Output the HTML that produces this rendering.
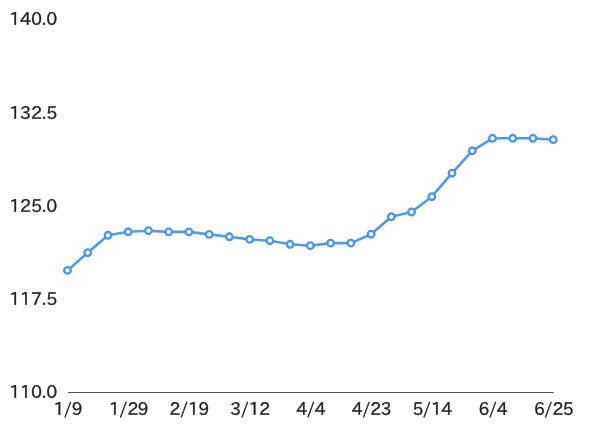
<!DOCTYPE html>
<html><head><meta charset="utf-8"><title>chart</title>
<style>
html,body{margin:0;padding:0;background:#fff;}
svg{display:block}
text{font-family:"IPAPGothic","NanumGothic","Liberation Sans",sans-serif;font-size:17.5px;fill:#222;stroke:#222;stroke-width:0.35px;}
.xl text{letter-spacing:-0.5px}
.yl text{letter-spacing:-0.15px}
</style></head><body>
<svg width="600" height="444" viewBox="0 0 600 444">
<defs><filter id="soft" x="-2%" y="-5%" width="104%" height="110%"><feGaussianBlur stdDeviation="0.6"/></filter></defs>
<rect width="600" height="444" fill="#fff"/>
<line x1="68" y1="392.5" x2="553.5" y2="392.5" stroke="#505050" stroke-width="1"/>
<g class="yl">
<text x="9.2" y="25.2">140.0</text>
<text x="9.2" y="118.8">132.5</text>
<text x="9.2" y="212.0">125.0</text>
<text x="9.2" y="304.5">117.5</text>
<text x="9.2" y="397.6">110.0</text>
</g>
<g class="xl">
<text transform="translate(67.8 415.0) scale(0.985 1)" text-anchor="middle">1/9</text>
<text transform="translate(128.5 415.0) scale(0.985 1)" text-anchor="middle">1/29</text>
<text transform="translate(189.2 415.0) scale(0.985 1)" text-anchor="middle">2/19</text>
<text transform="translate(249.9 415.0) scale(0.985 1)" text-anchor="middle">3/12</text>
<text transform="translate(310.7 415.0) scale(0.985 1)" text-anchor="middle">4/4</text>
<text transform="translate(371.4 415.0) scale(0.985 1)" text-anchor="middle">4/23</text>
<text transform="translate(432.1 415.0) scale(0.985 1)" text-anchor="middle">5/14</text>
<text transform="translate(492.8 415.0) scale(0.985 1)" text-anchor="middle">6/4</text>
<text transform="translate(553.5 415.0) scale(0.985 1)" text-anchor="middle">6/25</text>
</g>
<g filter="url(#soft)">
<polyline points="67.5,270.4 87.74,252.7 107.97,235.3 128.21,231.8 148.45,230.7 168.69,231.9 188.93,231.9 209.16,234.4 229.4,236.8 249.64,239.4 269.88,240.7 290.11,244.3 310.35,245.7 330.59,243.1 350.82,243.1 371.06,234.2 391.3,216.8 411.54,212.0 431.78,196.7 452.01,173.2 472.25,150.8 492.49,138.3 512.73,138.3 532.96,138.3 553.2,139.7" fill="none" stroke="#5499e7" stroke-width="2.6" stroke-linejoin="round"/>
<circle cx="67.5" cy="270.4" r="3.3" fill="#fff" stroke="#4f95e4" stroke-width="2.3"/>
<circle cx="87.74" cy="252.7" r="3.3" fill="#fff" stroke="#4f95e4" stroke-width="2.3"/>
<circle cx="107.97" cy="235.3" r="3.3" fill="#fff" stroke="#4f95e4" stroke-width="2.3"/>
<circle cx="128.21" cy="231.8" r="3.3" fill="#fff" stroke="#4f95e4" stroke-width="2.3"/>
<circle cx="148.45" cy="230.7" r="3.3" fill="#fff" stroke="#4f95e4" stroke-width="2.3"/>
<circle cx="168.69" cy="231.9" r="3.3" fill="#fff" stroke="#4f95e4" stroke-width="2.3"/>
<circle cx="188.93" cy="231.9" r="3.3" fill="#fff" stroke="#4f95e4" stroke-width="2.3"/>
<circle cx="209.16" cy="234.4" r="3.3" fill="#fff" stroke="#4f95e4" stroke-width="2.3"/>
<circle cx="229.4" cy="236.8" r="3.3" fill="#fff" stroke="#4f95e4" stroke-width="2.3"/>
<circle cx="249.64" cy="239.4" r="3.3" fill="#fff" stroke="#4f95e4" stroke-width="2.3"/>
<circle cx="269.88" cy="240.7" r="3.3" fill="#fff" stroke="#4f95e4" stroke-width="2.3"/>
<circle cx="290.11" cy="244.3" r="3.3" fill="#fff" stroke="#4f95e4" stroke-width="2.3"/>
<circle cx="310.35" cy="245.7" r="3.3" fill="#fff" stroke="#4f95e4" stroke-width="2.3"/>
<circle cx="330.59" cy="243.1" r="3.3" fill="#fff" stroke="#4f95e4" stroke-width="2.3"/>
<circle cx="350.82" cy="243.1" r="3.3" fill="#fff" stroke="#4f95e4" stroke-width="2.3"/>
<circle cx="371.06" cy="234.2" r="3.3" fill="#fff" stroke="#4f95e4" stroke-width="2.3"/>
<circle cx="391.3" cy="216.8" r="3.3" fill="#fff" stroke="#4f95e4" stroke-width="2.3"/>
<circle cx="411.54" cy="212.0" r="3.3" fill="#fff" stroke="#4f95e4" stroke-width="2.3"/>
<circle cx="431.78" cy="196.7" r="3.3" fill="#fff" stroke="#4f95e4" stroke-width="2.3"/>
<circle cx="452.01" cy="173.2" r="3.3" fill="#fff" stroke="#4f95e4" stroke-width="2.3"/>
<circle cx="472.25" cy="150.8" r="3.3" fill="#fff" stroke="#4f95e4" stroke-width="2.3"/>
<circle cx="492.49" cy="138.3" r="3.3" fill="#fff" stroke="#4f95e4" stroke-width="2.3"/>
<circle cx="512.73" cy="138.3" r="3.3" fill="#fff" stroke="#4f95e4" stroke-width="2.3"/>
<circle cx="532.96" cy="138.3" r="3.3" fill="#fff" stroke="#4f95e4" stroke-width="2.3"/>
<circle cx="553.2" cy="139.7" r="3.3" fill="#fff" stroke="#4f95e4" stroke-width="2.3"/>
</g>
</svg></body></html>
